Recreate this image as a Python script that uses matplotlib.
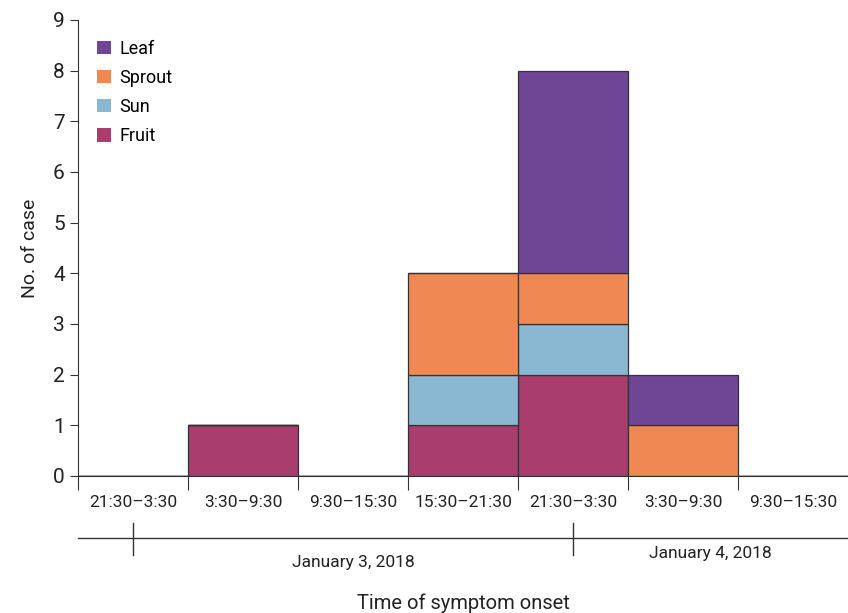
import numpy as np
import matplotlib.pyplot as plt
import matplotlib.transforms as mtransforms

plt.rcParams['font.family'] = ['Roboto', 'DejaVu Sans']

bins = ['21:30\u20133:30', '3:30\u20139:30', '9:30\u201315:30', '15:30\u201321:30',
        '21:30\u20133:30', '3:30\u20139:30', '9:30\u201315:30']
fruit = [0, 1, 0, 1, 2, 0, 0]
sun = [0, 0, 0, 1, 1, 0, 0]
sprout = [0, 0, 0, 2, 1, 1, 0]
leaf = [0, 0, 0, 0, 4, 1, 0]
series = [('Fruit', fruit, '#a83d6e'), ('Sun', sun, '#8ab8d3'),
          ('Sprout', sprout, '#f08853'), ('Leaf', leaf, '#6e4695')]
dates = ['January 3, 2018', 'January 4, 2018']

fig = plt.figure(figsize=(8.48, 6.13), dpi=100)
ax = fig.add_axes([0.092, 0.2235, 0.908, 0.744])
x = np.arange(len(bins))
bottom = np.zeros(len(bins))
handles = {}
for name, vals, col in series:
    vals = np.array(vals)
    h = ax.bar(x, vals, width=1.0, bottom=bottom, color=col, edgecolor='#333333',
               linewidth=0.9, label=name)
    handles[name] = h
    bottom += vals

ax.set_xlim(-0.5, 6.5)
ax.set_ylim(0, 9)
ax.set_yticks(range(10))
ax.tick_params(axis='y', labelsize=15, length=6, color='#333333', labelcolor='#222222')
ax.set_xticks(np.arange(-0.5, 6.0, 1.0))
ax.set_xticklabels([])
ax.tick_params(axis='x', which='major', length=10, color='#333333')
ax.set_xticks(x, minor=True)
ax.set_xticklabels(bins, minor=True)
ax.tick_params(axis='x', which='minor', length=0, pad=14, labelsize=12.5, labelcolor='#222222')
for s in ['top', 'right']:
    ax.spines[s].set_visible(False)
for s in ['left', 'bottom']:
    ax.spines[s].set_color('#333333')
ax.set_ylabel('No. of case', fontsize=14, color='#222222', labelpad=10)

# date axis below
tr = mtransforms.blended_transform_factory(ax.transData, ax.transAxes)
ax.plot([-0.5, 6.5], [-0.136, -0.136], transform=tr, color='#333333', lw=1, clip_on=False)
for xd in [0, 4]:
    ax.plot([xd, xd], [-0.103, -0.173], transform=tr, color='#333333', lw=1, clip_on=False)
ax.text(2.0, -0.189, dates[0], transform=tr, ha='center', va='center', fontsize=12.5, color='#222222')
ax.text(5.25, -0.169, dates[1], transform=tr, ha='center', va='center', fontsize=12.5, color='#222222')
ax.text(3.0, -0.279, 'Time of symptom onset', transform=tr, ha='center', va='center',
        fontsize=14.5, color='#222222')

order = ['Leaf', 'Sprout', 'Sun', 'Fruit']
ax.legend([handles[n] for n in order], order, loc='upper left', bbox_to_anchor=(-0.008, 1.012),
          frameon=False, fontsize=13, handlelength=0.75, handleheight=0.75, handletextpad=0.5,
          labelspacing=0.62, borderaxespad=1.0)
for p in ax.get_legend().get_patches():
    p.set_edgecolor('none')

fig.savefig('out.png', dpi=100)
